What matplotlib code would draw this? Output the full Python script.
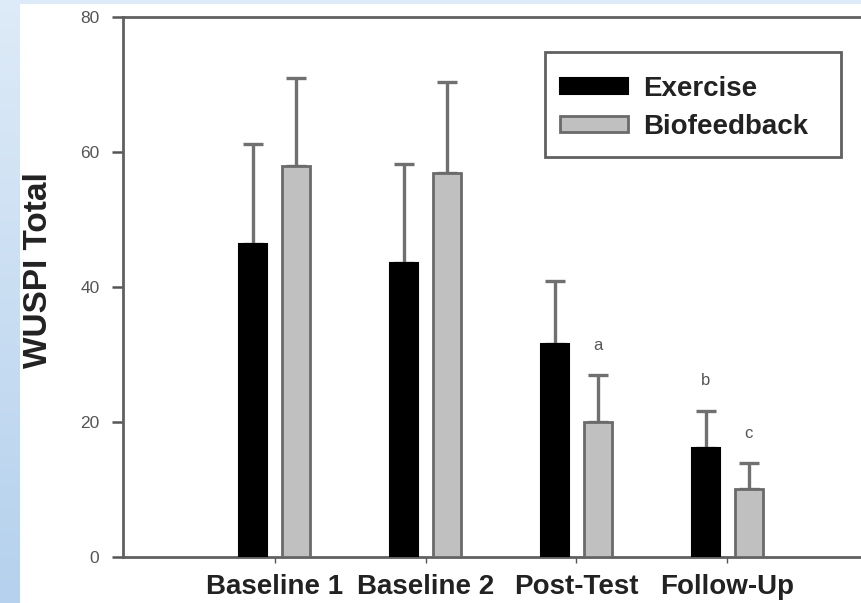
import numpy as np
import matplotlib
matplotlib.use("Agg")
import matplotlib.pyplot as plt
from matplotlib.patches import Rectangle

plt.rcParams['font.family'] = ['Liberation Sans', 'DejaVu Sans']

# Data
categories = ["Baseline 1", "Baseline 2", "Post-Test", "Follow-Up"]
exercise_mean = [46.3, 43.6, 31.6, 16.2]
exercise_sd = [14.9, 14.6, 9.3, 5.5]
biofeedback_mean = [57.9, 56.9, 20.0, 10.1]
biofeedback_sd = [13.1, 13.5, 7.0, 3.8]
# significance markers: (category index, series offset sign, label)
markers = [(2, +1, "a"), (3, -1, "b"), (3, +1, "c")]
y_ticks = [0, 20, 40, 60, 80]

W, H = 861, 603
fig = plt.figure(figsize=(W / 100, H / 100), dpi=100)

# slide-style background: light blue frame on the left and top
bg = fig.add_axes([0, 0, 1, 1])
bg.set_axis_off()
grad = np.linspace(0, 1, 256)[:, None]
top_c = np.array([0.87, 0.92, 0.97])
bot_c = np.array([0.71, 0.82, 0.93])
img = top_c[None, None, :] * (1 - grad[..., None]) + bot_c[None, None, :] * grad[..., None]
bg.imshow(img, aspect='auto', extent=[0, 1, 0, 1], origin='upper')
bg.add_patch(Rectangle((20 / W, 0), 1, 1 - 4 / H, facecolor='white', edgecolor='none'))
bg.set_xlim(0, 1)
bg.set_ylim(0, 1)

# main plot area (extends past the right edge of the figure)
left_px, right_px = 123, 878
top_px, bot_px = 17, 557
ax_w, ax_h = right_px - left_px, bot_px - top_px
ax = fig.add_axes([left_px / W, 1 - bot_px / H, ax_w / W, ax_h / H])
ax.set_facecolor('none')


def ax_coords(px, py):
    """Pixel position in the figure -> axes fraction."""
    return (px - left_px) / ax_w, 1 - (py - top_px) / ax_h


x = np.arange(len(categories))
bw = 0.185
off = 0.142

err_kw = dict(ecolor='#707070', elinewidth=2.4, capsize=7.5, capthick=2.4)
ax.bar(x - off, exercise_mean, bw, color='black', edgecolor='black', linewidth=1.5,
       label='Exercise', zorder=3)
ax.bar(x + off, biofeedback_mean, bw, color='#c0c0c0', edgecolor='#6a6a6a', linewidth=2,
       label='Biofeedback', zorder=3)
ax.errorbar(x - off, exercise_mean, yerr=[np.zeros(4), exercise_sd], fmt='none', zorder=2, **err_kw)
ax.errorbar(x + off, biofeedback_mean, yerr=[np.zeros(4), biofeedback_sd], fmt='none', zorder=2, **err_kw)

for i, s, lab in markers:
    if s > 0:
        top = biofeedback_mean[i] + biofeedback_sd[i]
    else:
        top = exercise_mean[i] + exercise_sd[i]
    ax.text(i + s * off, top + 4.4, lab, ha='center', va='center', fontsize=12,
            color='#555555')

ax.set_xlim(-1.007, 4.0)
ax.set_ylim(0, 80)
ax.set_yticks(y_ticks)
ax.set_yticklabels([str(t) for t in y_ticks], fontsize=12.5, color='#555555')
ax.set_xticks(x)
ax.set_xticklabels(categories, fontsize=20, fontweight='bold', color='#222222')
ax.tick_params(axis='y', direction='out', length=8, width=1.8, color='#555555', pad=9)
ax.tick_params(axis='x', direction='out', length=4, width=1, color='#555555', pad=8)

for sp in ['left', 'bottom', 'top']:
    ax.spines[sp].set_color('#606060')
    ax.spines[sp].set_linewidth(2)
ax.spines['right'].set_visible(False)

ax.set_ylabel('WUSPI Total', fontsize=24, fontweight='bold', color='#222222')
ax.yaxis.set_label_coords(-0.092, 0.531)

# legend box drawn separately so its padding can differ horizontally/vertically
x0, y0 = ax_coords(545, 157)
x1, y1 = ax_coords(841, 52)
ax.add_patch(Rectangle((x0, y0), x1 - x0, y1 - y0, transform=ax.transAxes,
                       facecolor='white', edgecolor='#606060', linewidth=2, zorder=4))
leg = ax.legend(loc='upper left', bbox_to_anchor=ax_coords(560, 76),
                fontsize=20, frameon=False, handlelength=2.45,
                handleheight=0.5, borderpad=0, labelspacing=0.42, handletextpad=0.54,
                borderaxespad=0)
leg.set_zorder(5)
for t in leg.get_texts():
    t.set_fontweight('bold')
    t.set_color('#222222')

fig.savefig('out.png', dpi=100)
